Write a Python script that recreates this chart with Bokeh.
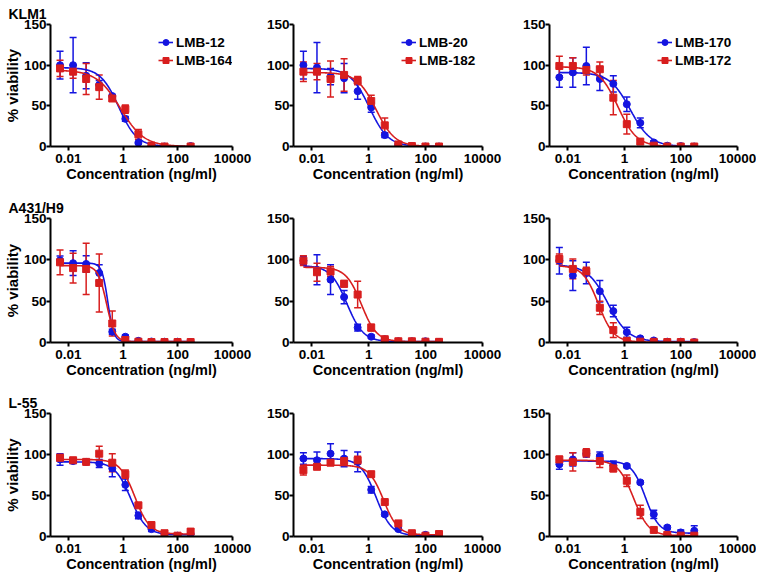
import numpy as np
from bokeh.plotting import figure
from bokeh.models import (Range1d, FixedTicker, NumeralTickFormatter, Whisker, TeeHead,
                          ColumnDataSource, Legend, LegendItem)
from bokeh.layouts import column, row
from bokeh.embed import file_html
from bokeh.resources import INLINE

nan = float("nan")

# Concentrations (ng/ml), 3-fold dilution series
conc = [0.005, 0.015, 0.045, 0.135, 0.405, 1.215, 3.645, 10.94, 32.8, 98.4, 295.2]

# Row labels and legend labels
row_labels = ["KLM1", "A431/H9", "L-55"]
blue_names = ["LMB-12", "LMB-20", "LMB-170"]
red_names = ["LMB-164", "LMB-182", "LMB-172"]

# ---- KLM1 ----
klm1_blue1_mean = [100, 100, 87, 76, 62, 34, 4.5, 1, 0, nan, 0.5]
klm1_blue1_err = [17, 34, 16, 5, 2, 3, 1.5, 0, 0, nan, 0]
klm1_red1_mean = [96, 92, 83, 73, 59, 46, 15, 1, 0, nan, 0]
klm1_red1_err = [10, 8, 19, 15, 2, 5, 6, 0, 0, nan, 0]
klm1_blue1_fit = [97, 0, 0.7, 1.3]    # top, bottom, IC50, hill
klm1_red1_fit = [94, 0, 0.8, 1.0]

klm1_blue2_mean = [100, 97, 86, 84, 68, 48, 14, 2.5, 0.5, 0, 0]
klm1_blue2_err = [17, 31, 10, 18, 10, 6, 3, 1, 0, 0, 0]
klm1_red2_mean = [92, 92, 83, 88, 81, 56, 26, 2.5, 0.5, 0, 0]
klm1_red2_err = [12, 10, 22, 20, 5, 7, 9, 1, 0, 0, 0]
klm1_blue2_fit = [96, 0, 1.05, 1.3]
klm1_red2_fit = [91, 0, 1.8, 1.3]

klm1_blue3_mean = [85, 91, 99, 83, 77, 52, 29, 5, 1, 0.5, 0]
klm1_blue3_err = [12, 18, 23, 14, 10, 9, 6, 2, 0, 0, 0]
klm1_red3_mean = [99, 99, 94, 95, 60, 27.5, 6, 1, 0, 0, 0]
klm1_red3_err = [12, 10, 6, 9, 21, 12, 2, 0, 0, 0, 0]
klm1_blue3_fit = [91, 0, 1.6, 1.2]
klm1_red3_fit = [98, 0, 0.59, 1.3]

# ---- A431/H9 ----
a431_blue1_mean = [99.5, 96, 95, 84, 13, 7, 2, 1.2, 1, 1, 0.5]
a431_blue1_err = [5, 15, 10, 10, 3, 2, 1, 0, 0, 0, 0]
a431_red1_mean = [97, 90, 89, 72, 23, 3, 1, 0.5, 0.5, 0.5, 0.5]
a431_red1_err = [15, 18, 31, 35, 15, 1.5, 0, 0, 0, 0, 0]
a431_blue1_fit = [96, 1, 0.28, 4.0]
a431_red1_fit = [93, 1, 0.25, 2.8]

a431_blue2_mean = [99, 88, 76, 55, 18, 7, 4, 1.5, 1.5, 1.5, 0.8]
a431_blue2_err = [5, 18, 18, 8, 4, 2, 1, 0, 0, 0, 0]
a431_red2_mean = [99, 85, 86, 71, 58, 18, 4, 1.5, 1.5, 1, 0.8]
a431_red2_err = [6, 11, 6, 4, 16, 4, 1, 0, 0, 0, 0]
a431_blue2_fit = [93, 1, 0.17, 1.5]
a431_red2_fit = [91, 1, 0.55, 1.6]

a431_blue3_mean = [99, 81, 84, 62, 38, 12.5, 5, 2.5, 1, 1, 0.5]
a431_blue3_err = [16, 18, 13, 13, 7, 6, 1.5, 1, 0, 0, 0]
a431_red3_mean = [101, 89, 86, 42, 15, 2, 1, 0.8, 0.5, 0.5, 0]
a431_red3_err = [6, 12, 5, 8, 9, 1, 0, 0, 0, 0, 0]
a431_blue3_fit = [94, 1, 0.26, 1.2]
a431_red3_fit = [93, 0.5, 0.12, 1.6]

# ---- L-55 ----
l55_blue1_mean = [94, 92, 91, 89, 83, 63, 25.5, 9, 3, 1, 3]
l55_blue1_err = [7, 3, 2, 5, 10, 7, 4, 3, 1, 0, 1]
l55_red1_mean = [96, 93, 91, 101, 90, 76, 38, 14, 4, 1, 6]
l55_red1_err = [4, 3, 2, 9, 11, 5, 3, 2, 1, 0, 3]
l55_blue1_fit = [91, 2, 1.9, 1.5]
l55_red1_fit = [94, 3, 2.7, 1.6]

l55_blue2_mean = [95, 93, 101, 95, 91, 57, 27, 9, 3, 2, 1]
l55_blue2_err = [7, 10, 12, 10, 12, 4, 2, 1.5, 1, 1, 0]
l55_red2_mean = [81, 85, 90, 92, 93, 76, 42, 16, 4, 1, 3]
l55_red2_err = [6, 3, 3, 5, 5, 3, 2, 2, 1, 0, 1]
l55_blue2_fit = [95, 1, 1.8, 1.6]
l55_red2_fit = [87, 2, 3.3, 1.7]

l55_blue3_mean = [88, 94, 101, 98, 87, 86, 66, 27, 11, 5, 7]
l55_blue3_err = [6, 8, 4, 5, 5, 2, 2, 5, 2, 3, 6]
l55_red3_mean = [94, 91, 102, 92, 83, 68, 30, 8, 2, 1, 1]
l55_red3_err = [4, 11, 5, 8, 4, 7, 8, 2, 1, 0, 0]
l55_blue3_fit = [92, 4, 5.5, 1.8]
l55_red3_fit = [93, 1, 2.1, 1.6]

x_ticks = [0.01, 1, 100, 10000]
y_ticks = [0, 50, 100, 150]

BLUE = "#1414e0"
RED = "#d81e1e"
FONT = "Liberation Sans"

panels = [
    [(klm1_blue1_mean, klm1_blue1_err, klm1_blue1_fit, klm1_red1_mean, klm1_red1_err, klm1_red1_fit),
     (klm1_blue2_mean, klm1_blue2_err, klm1_blue2_fit, klm1_red2_mean, klm1_red2_err, klm1_red2_fit),
     (klm1_blue3_mean, klm1_blue3_err, klm1_blue3_fit, klm1_red3_mean, klm1_red3_err, klm1_red3_fit)],
    [(a431_blue1_mean, a431_blue1_err, a431_blue1_fit, a431_red1_mean, a431_red1_err, a431_red1_fit),
     (a431_blue2_mean, a431_blue2_err, a431_blue2_fit, a431_red2_mean, a431_red2_err, a431_red2_fit),
     (a431_blue3_mean, a431_blue3_err, a431_blue3_fit, a431_red3_mean, a431_red3_err, a431_red3_fit)],
    [(l55_blue1_mean, l55_blue1_err, l55_blue1_fit, l55_red1_mean, l55_red1_err, l55_red1_fit),
     (l55_blue2_mean, l55_blue2_err, l55_blue2_fit, l55_red2_mean, l55_red2_err, l55_red2_fit),
     (l55_blue3_mean, l55_blue3_err, l55_blue3_fit, l55_red3_mean, l55_red3_err, l55_red3_fit)],
]


def add_series(p, mean, err, fit, color, marker):
    x = np.array(conc, dtype=float)
    m = np.array(mean, dtype=float)
    e = np.array(err, dtype=float)
    ok = ~np.isnan(m)
    # fitted 4-parameter logistic curve over the data range
    top, bottom, ic50, hill = fit
    xs = np.logspace(np.log10(conc[0]), np.log10(conc[-1]), 300)
    ys = bottom + (top - bottom) / (1.0 + (xs / ic50) ** hill)
    line_r = p.line(xs, ys, line_color=color, line_width=1.6)
    eok = ok & (e > 0)
    src = ColumnDataSource(dict(x=x[eok], upper=(m + e)[eok], lower=(m - e)[eok]))
    w = Whisker(base="x", upper="upper", lower="lower", source=src, dimension="height",
                line_color=color, line_width=1.5,
                upper_head=TeeHead(size=7, line_color=color, line_width=1.5),
                lower_head=TeeHead(size=7, line_color=color, line_width=1.5))
    p.add_layout(w)
    sc = p.scatter(x[ok], m[ok], marker=marker, size=7,
                   fill_color=color, line_color=color)
    return line_r, sc


# layout geometry (pixels)
col_left = [44, 34, 34]
col_frame = [188, 189, 188]
col_right = [27, 33, 19]
row_top = [22, 30, 29]
row_frame = [124, 124, 123]
row_bottom = [42, 42, 39]

rows = []
for ri in range(3):
    figs = []
    for ci in range(3):
        l, fw, r = col_left[ci], col_frame[ci], col_right[ci]
        t, fh, b = row_top[ri], row_frame[ri], row_bottom[ri]
        p = figure(width=l + fw + r, height=t + fh + b, x_axis_type="log",
                   x_range=Range1d(0.00224, 10000), y_range=Range1d(0, 150),
                   output_backend="svg", toolbar_location=None,
                   min_border_left=l, min_border_right=r, min_border_top=t, min_border_bottom=b)
        p.xgrid.visible = False
        p.ygrid.visible = False
        p.outline_line_color = None
        p.background_fill_color = "white"
        p.border_fill_color = "white"
        p.xaxis.ticker = FixedTicker(ticks=x_ticks)
        p.yaxis.ticker = FixedTicker(ticks=y_ticks)
        p.xaxis.formatter = NumeralTickFormatter(format="0.[00]")
        for ax in p.axis:
            ax.axis_line_width = 2
            ax.axis_line_color = "black"
            ax.major_tick_line_width = 2
            ax.major_tick_line_color = "black"
            ax.major_tick_out = 4
            ax.major_tick_in = 0
            ax.minor_tick_out = 0
            ax.minor_tick_in = 0
            ax.major_label_text_font = FONT
            ax.major_label_text_font_style = "bold"
            ax.major_label_text_font_size = "13.5px"
            ax.major_label_text_color = "black"
            ax.axis_label_text_font = FONT
            ax.axis_label_text_font_style = "bold"
            ax.axis_label_text_color = "black"
        p.xaxis.major_label_standoff = 3
        p.xaxis.axis_label_standoff = 0
        p.xaxis.axis_label_text_font_size = "14.5px"
        p.yaxis.major_label_standoff = 0
        p.yaxis.axis_label_standoff = 0
        p.yaxis.axis_label_text_font_size = "15px"
        p.xaxis.axis_label = "Concentration (ng/ml)"
        if ci == 0:
            p.yaxis.axis_label = "% viability"
            p.title.text = row_labels[ri]
            p.title.align = "left"
            p.title.offset = -l + 2
            p.title.standoff = 6
            p.title.text_font = FONT
            p.title.text_font_style = "bold"
            p.title.text_font_size = "14px"
            p.title.text_color = "black"

        bm, be, bf, rm, re_, rf = panels[ri][ci]
        bl, bs = add_series(p, bm, be, bf, BLUE, "circle")
        rl, rs = add_series(p, rm, re_, rf, RED, "square")

        if ri == 0:
            legend = Legend(items=[LegendItem(label=blue_names[ci], renderers=[bl, bs]),
                                   LegendItem(label=red_names[ci], renderers=[rl, rs])],
                            location=(108, 77))
            legend.border_line_color = None
            legend.background_fill_alpha = 0
            legend.padding = 0
            legend.margin = 0
            legend.spacing = 0
            legend.glyph_width = 15
            legend.glyph_height = 18
            legend.label_height = 18
            legend.label_standoff = 3
            legend.label_text_font = FONT
            legend.label_text_font_style = "bold"
            legend.label_text_font_size = "13.5px"
            legend.label_text_color = "black"
            p.add_layout(legend)
        figs.append(p)
    rows.append(row(*figs))

layout = column(*rows)
open("out.html", "w").write(file_html(layout, INLINE))
